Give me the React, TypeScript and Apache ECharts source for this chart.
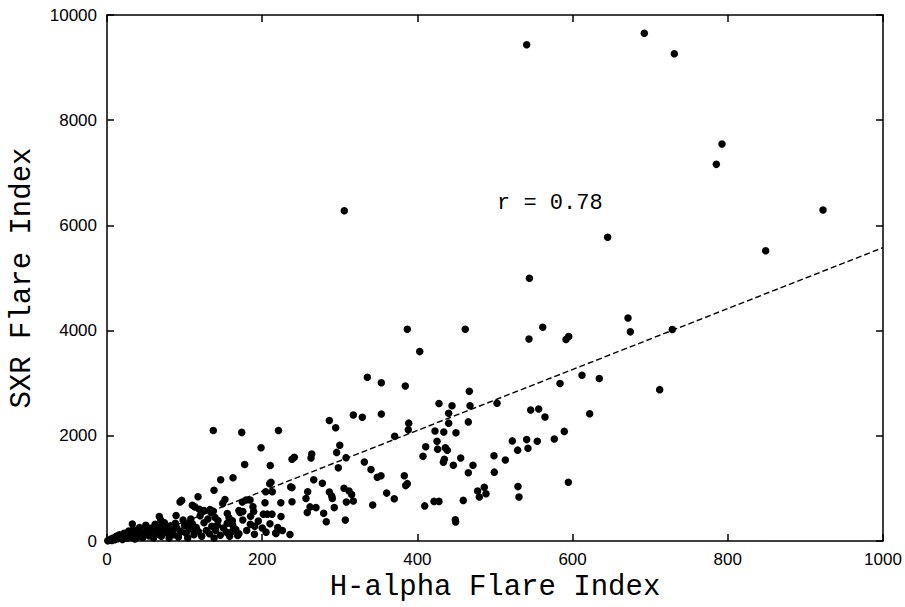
import React, { useEffect, useRef } from "react";
import * as echarts from "echarts";

// H-alpha flare index (x) vs SXR flare index (y)
const points: [number, number][] = [
  [540.8, 9434], [692.4, 9652], [731.1, 9265], [792.5, 7548], [785.2, 7161], [922.7, 6293],
  [645.2, 5775], [848.8, 5520], [544.3, 4995], [305.8, 6280],
  [387, 4027], [461.7, 4027], [403, 3602], [335.5, 3115], [353.5, 3010], [384.4, 2947], [466.9, 2847],
  [427.8, 2616], [444.6, 2572], [467.8, 2572], [440.3, 2429], [465.6, 2266], [440.3, 2242],
  [388.8, 2242], [388.3, 2117], [317.4, 2397], [329, 2354], [353.5, 2416], [422.7, 2092],
  [434, 2073], [449.7, 2060],
  [370.7, 1991], [300, 1822], [308, 1586], [410.7, 1792], [425.3, 1897], [426.1, 1748], [436, 1773],
  [438.5, 1729], [407.2, 1611], [434.7, 1555], [433.5, 1498], [455.8, 1579], [446.3, 1442],
  [471.6, 1442], [465.6, 1298], [331.6, 1504], [340.2, 1362], [348.3, 1212], [353.1, 1242],
  [383.1, 1242], [384.9, 1055], [387, 1092], [305.4, 1006], [311.9, 950], [315.3, 886],
  [308.4, 744], [317.4, 762], [360.4, 912], [370.2, 805], [342.4, 687], [307.1, 399],
  [409.4, 669], [421.4, 755], [427.8, 755], [459.1, 774], [448.8, 406], [449.3, 362],
  [477.6, 950], [486.2, 1025], [479.8, 837], [488.4, 899],
  [671.4, 4239], [674.4, 3977], [728.5, 4021], [561.5, 4064], [543.8, 3840], [591.5, 3834],
  [595, 3890], [612.1, 3152], [634.4, 3090], [583.8, 2997], [712.2, 2879], [502.6, 2622],
  [546, 2491], [556.3, 2510], [564.4, 2360], [622, 2422], [589.3, 2085], [576.4, 1942],
  [522.3, 1905], [540.8, 1929], [554.5, 1897], [529.2, 1729], [542.5, 1766], [498.7, 1623],
  [513.3, 1542], [499.1, 1311], [529.6, 1036], [530.9, 837], [594.5, 1118],
  [221, 2103], [286.5, 2291], [294.7, 2154], [295.9, 1686], [298.1, 1392], [263.8, 1654],
  [262.9, 1579], [238.4, 1555], [241.4, 1592], [266.4, 1167], [277.5, 1099], [236.7, 1030],
  [238.4, 1017], [286.5, 931], [289.6, 856], [290.4, 811], [258.6, 937], [256.4, 811],
  [258.1, 543], [261.6, 650], [269.3, 637], [279.2, 530], [282.6, 369], [292.9, 637],
  [238.4, 749], [224, 730], [224.2, 468], [235.8, 125],
  [137, 2103], [173.6, 2066], [198.5, 1774], [177.4, 1455], [210.4, 1436], [146.5, 1167],
  [162.4, 1205], [137.9, 968], [211.3, 1118], [209.7, 1092], [204.5, 937], [213, 937],
  [152, 792], [149.1, 717], [174.4, 744], [179.1, 781], [184.3, 781], [203.6, 730],
  [137, 568], [139.2, 449], [155, 524], [157.2, 444], [161.5, 388], [155, 337], [171.4, 543],
  [188.1, 655], [189, 562], [184.7, 318], [190.3, 281], [201.5, 512], [206.6, 512],
  [212.6, 512], [217.4, 156], [161.1, 182], [168.4, 107], [142.2, 300],
  [117.3, 843], [94.1, 744], [96.2, 774], [110, 680], [113.4, 650], [118.9, 605],
  [67.4, 468], [69.2, 399], [32.6, 324], [125, 580], [132.7, 599], [134, 543], [217.8, 143],
  [175, 562], [170, 580], [89, 487], [105.7, 318], [110.8, 225], [51.5, 262],
  [1, 5], [3, 15], [5, 40], [6, 10], [8, 60], [10, 25], [12, 90], [14, 45], [16, 120], [18, 70],
  [20, 30], [22, 150], [24, 100], [26, 60], [28, 190], [30, 130], [32, 80], [34, 220], [36, 40],
  [38, 160], [40, 110], [42, 260], [44, 190], [46, 70], [48, 140], [50, 300], [52, 210],
  [54, 100], [56, 170], [58, 250], [60, 60], [62, 320], [64, 200], [66, 130], [68, 270],
  [70, 90], [72, 180], [74, 350], [76, 240], [78, 150], [80, 60], [82, 290], [84, 200],
  [86, 120], [88, 340], [90, 250], [92, 80], [95, 180], [98, 400], [100, 290], [102, 150],
  [104, 60], [106, 230], [108, 420], [110, 330], [112, 120], [115, 260], [118, 180],
  [120, 480], [122, 90], [125, 350], [128, 200], [130, 420], [132, 140], [135, 280],
  [138, 60], [140, 200], [143, 390], [146, 110], [150, 250], [154, 170], [158, 90],
  [162, 300], [166, 220], [170, 140], [175, 400], [180, 200], [185, 470], [190, 130],
  [195, 380], [200, 250], [205, 170], [210, 330], [220, 260], [226, 200],
];

// least-squares fit shown as the dashed line
const fitSlope = 5.79;
const fitIntercept = -212;
const fitXRange = [-fitIntercept / fitSlope, 1000];

const xTicks = [0, 200, 400, 600, 800, 1000];
const yTicks = [0, 2000, 4000, 6000, 8000, 10000];
const rText = "r = 0.78";

export default function App() {
  const ref = useRef<HTMLDivElement>(null);
  useEffect(() => {
    if (!ref.current) return;
    const chart = echarts.init(ref.current, null, { renderer: "svg" });
    const tickLabel = {
      color: "#000",
      fontFamily: "Liberation Sans",
      fontSize: 17,
      formatter: (v: number) => String(v),
    };
    const line = { show: true, onZero: false, lineStyle: { color: "#000", width: 1.5 } };
    const tick = { show: true, inside: true, length: 7, lineStyle: { color: "#000", width: 1.5 } };
    const nameStyle = { color: "#000", fontFamily: "Liberation Mono", fontSize: 29 };
    chart.setOption({
      animation: false,
      backgroundColor: "#fff",
      grid: { left: 107, right: 22, top: 15, bottom: 58, show: false },
      xAxis: [
        {
          type: "value", position: "bottom", min: xTicks[0], max: xTicks[xTicks.length - 1], interval: 200,
          axisLine: line, axisTick: tick, splitLine: { show: false },
          axisLabel: { ...tickLabel, margin: 10 },
          name: "H-alpha Flare Index", nameLocation: "middle", nameGap: 29, nameTextStyle: nameStyle,
        },
        {
          type: "value", position: "top", min: xTicks[0], max: xTicks[xTicks.length - 1], interval: 200,
          axisLine: line, axisTick: tick, splitLine: { show: false }, axisLabel: { show: false },
        },
      ],
      yAxis: [
        {
          type: "value", position: "left", min: yTicks[0], max: yTicks[yTicks.length - 1], interval: 2000,
          axisLine: line, axisTick: tick, splitLine: { show: false },
          axisLabel: { ...tickLabel, margin: 10 },
          name: "SXR Flare Index", nameLocation: "middle", nameGap: 70, nameTextStyle: nameStyle,
        },
        {
          type: "value", position: "right", min: yTicks[0], max: yTicks[yTicks.length - 1], interval: 2000,
          axisLine: line, axisTick: tick, splitLine: { show: false }, axisLabel: { show: false },
        },
      ],
      series: [
        {
          type: "line",
          data: fitXRange.map((x) => [x, fitIntercept + fitSlope * x]),
          symbol: "none",
          lineStyle: { color: "#000", width: 1.4, type: [6, 3] },
          z: 1,
        },
        {
          type: "scatter",
          data: points,
          symbol: "circle",
          symbolSize: 7.5,
          itemStyle: { color: "#000", opacity: 1 },
          z: 2,
        },
      ],
      graphic: [
        {
          type: "text",
          left: 497,
          top: 192,
          style: { text: rText, fill: "#000", font: "22px 'Liberation Mono'" },
        },
      ],
    });
    return () => chart.dispose();
  }, []);
  return (
    <div
      ref={ref}
      style={{ position: "fixed", left: 0, top: 0, width: 905, height: 607, background: "#fff" }}
    />
  );
}
